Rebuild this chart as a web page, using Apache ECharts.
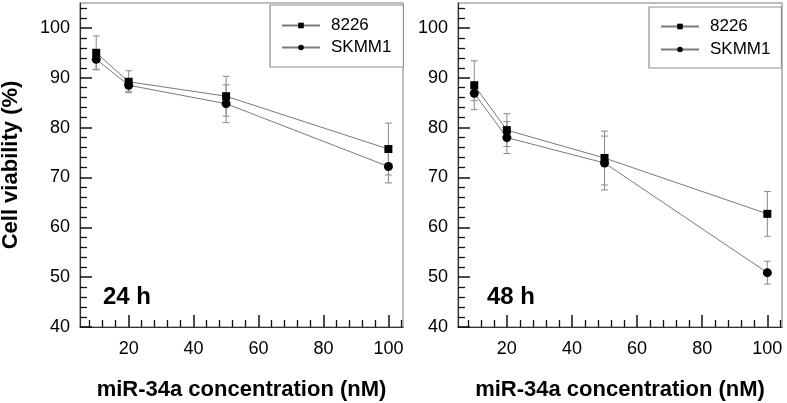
<!DOCTYPE html>
<html>
<head>
<meta charset="utf-8">
<script src="https://cdn.jsdelivr.net/npm/echarts@6/dist/echarts.min.js"></script>
<style>html,body{margin:0;padding:0;background:#fff;}#c{width:787px;height:403px;}</style>
</head>
<body>
<div id="c"></div>
<script>
// ---- data ----
const conc = [10, 20, 50, 100];
const mean8226_24 = [95.0, 89.2, 86.3, 75.7];
const err8226_24  = [3.4, 2.2, 4.0, 5.2];
const meanSK_24   = [93.7, 88.5, 84.8, 72.2];
const errSK_24    = [2.0, 1.2, 3.8, 3.3];
const mean8226_48 = [88.5, 79.5, 73.9, 62.7];
const err8226_48  = [4.9, 3.3, 5.4, 4.5];
const meanSK_48   = [86.9, 78.0, 72.9, 50.9];
const errSK_48    = [1.5, 3.2, 5.4, 2.3];
const xMajorTicks = [20, 40, 60, 80, 100];
const xMinorTicks = [8, 12, 16, 24, 28, 32, 36, 44, 48, 52, 56, 64, 68, 72, 76, 84, 88, 92, 96, 104];
const yMajorTicks = [40, 50, 60, 70, 80, 90, 100];
const yMinorTicks = [42, 44, 46, 48, 52, 54, 56, 58, 62, 64, 66, 68, 72, 74, 76, 78, 82, 84, 86, 88, 92, 94, 96, 98, 102, 104];
const seriesNames = ['8226', 'SKMM1'];
const panelLabels = ['24 h', '48 h'];

const FONT = "'Liberation Sans', Arial, sans-serif";
const chart = echarts.init(document.getElementById('c'));

function pts(m) { return conc.map((x, i) => [x, m[i]]); }
function errPts(m, e) { return conc.map((x, i) => [x, m[i] - e[i], m[i] + e[i]]); }

function renderErr(params, api) {
  const x = api.value(0);
  const lo = api.coord([x, api.value(1)]);
  const hi = api.coord([x, api.value(2)]);
  const w = 3.5;
  const st = { stroke: '#8a8a8a', lineWidth: 1 };
  return { type: 'group', children: [
    { type: 'line', shape: { x1: lo[0], y1: lo[1], x2: hi[0], y2: hi[1] }, style: st },
    { type: 'line', shape: { x1: lo[0] - w, y1: lo[1], x2: lo[0] + w, y2: lo[1] }, style: st },
    { type: 'line', shape: { x1: hi[0] - w, y1: hi[1], x2: hi[0] + w, y2: hi[1] }, style: st }
  ]};
}

const grids = [
  { left: 80, top: 3, width: 323, height: 324, outerBoundsMode: 'none', containLabel: false, show: true, borderColor: '#a8a8a8', borderWidth: 1.5, backgroundColor: 'transparent' },
  { left: 458, top: 3, width: 324, height: 324, outerBoundsMode: 'none', containLabel: false, show: true, borderColor: '#a8a8a8', borderWidth: 1.5, backgroundColor: 'transparent' }
];

function xMajor(g) {
  return { type: 'value', gridIndex: g, position: 'bottom', min: 5, max: 104.5,
    name: 'miR-34a concentration (nM)', nameLocation: 'middle', nameGap: 52,
    nameTextStyle: { fontFamily: FONT, fontSize: 22, fontWeight: 'bold', color: '#000' },
    axisLine: { show: true, onZero: false, lineStyle: { color: '#333', width: 1.2 } },
    axisTick: { show: true, inside: true, length: 12, customValues: xMajorTicks, lineStyle: { color: '#111', width: 1.5 } },
    axisLabel: { show: true, customValues: xMajorTicks, margin: 13, fontFamily: FONT, fontSize: 18, color: '#000' },
    splitLine: { show: false } };
}
function xMinor(g) {
  return { type: 'value', gridIndex: g, position: 'bottom', offset: 0, min: 5, max: 104.5,
    axisLine: { show: false, onZero: false },
    axisTick: { show: true, inside: true, length: 7, customValues: xMinorTicks, lineStyle: { color: '#111', width: 1.3 } },
    axisLabel: { show: false }, splitLine: { show: false } };
}
function yMajor(g) {
  const a = { type: 'value', gridIndex: g, position: 'left', min: 40, max: 105,
    axisLine: { show: true, onZero: false, lineStyle: { color: '#333', width: 1.2 } },
    axisTick: { show: true, inside: true, length: 12, customValues: yMajorTicks, lineStyle: { color: '#111', width: 1.5 } },
    axisLabel: { show: true, customValues: yMajorTicks, margin: 10, fontFamily: FONT, fontSize: 18, color: '#000' },
    splitLine: { show: false } };
  if (g === 0) {
    a.name = 'Cell viability (%)';
    a.nameLocation = 'middle';
    a.nameGap = 58;
    a.nameTextStyle = { fontFamily: FONT, fontSize: 22, fontWeight: 'bold', color: '#000' };
  }
  return a;
}
function yMinor(g) {
  return { type: 'value', gridIndex: g, position: 'left', offset: 0, min: 40, max: 105,
    axisLine: { show: false, onZero: false },
    axisTick: { show: true, inside: true, length: 7, customValues: yMinorTicks, lineStyle: { color: '#111', width: 1.3 } },
    axisLabel: { show: false }, splitLine: { show: false } };
}

function lineSeries(name, data, axis, symbol, size) {
  return { type: 'line', name: name, data: data, xAxisIndex: axis, yAxisIndex: axis,
    symbol: symbol, symbolSize: size, showSymbol: true, z: 5,
    lineStyle: { color: '#7a7a7a', width: 1 },
    itemStyle: { color: '#000' }, emphasis: { disabled: true }, animation: false };
}
function errSeries(name, data, axis) {
  return { type: 'custom', name: name, data: data, xAxisIndex: axis, yAxisIndex: axis,
    renderItem: renderErr, z: 2, silent: true, animation: false,
    encode: { x: 0, y: [1, 2] } };
}

function legend(left, top, pad, gap) {
  return { data: seriesNames, orient: 'vertical', left: left, top: top, padding: pad, itemGap: gap,
    itemWidth: 38, itemHeight: 7, borderColor: '#8f8f8f', borderWidth: 1.2, backgroundColor: '#fff',
    selectedMode: false,
    textStyle: { fontFamily: FONT, fontSize: 17, color: '#000', padding: [0, 0, 0, 6] } };
}

const option = {
  animation: false,
  backgroundColor: '#fff',
  grid: grids,
  xAxis: [xMajor(0), xMinor(0), xMajor(1), xMinor(1)],
  yAxis: [yMajor(0), yMinor(0), yMajor(1), yMinor(1)],
  legend: [legend(270, 5, [12, 12, 11, 11], 5), legend(649, 7, [11, 11, 10, 11], 6)],
  series: [
    errSeries('e1', errPts(mean8226_24, err8226_24), 0),
    errSeries('e2', errPts(meanSK_24, errSK_24), 0),
    errSeries('e3', errPts(mean8226_48, err8226_48), 2),
    errSeries('e4', errPts(meanSK_48, errSK_48), 2),
    lineSeries(seriesNames[0], pts(mean8226_24), 0, 'rect', 8),
    lineSeries(seriesNames[1], pts(meanSK_24), 0, 'circle', 9),
    lineSeries(seriesNames[0], pts(mean8226_48), 2, 'rect', 8),
    lineSeries(seriesNames[1], pts(meanSK_48), 2, 'circle', 9)
  ],
  graphic: [
    { type: 'text', left: 103, top: 285, style: { text: panelLabels[0], font: 'bold 24px ' + FONT, fill: '#000' } },
    { type: 'text', left: 487, top: 285, style: { text: panelLabels[1], font: 'bold 24px ' + FONT, fill: '#000' } }
  ]
};
chart.setOption(option);
</script>
</body>
</html>
